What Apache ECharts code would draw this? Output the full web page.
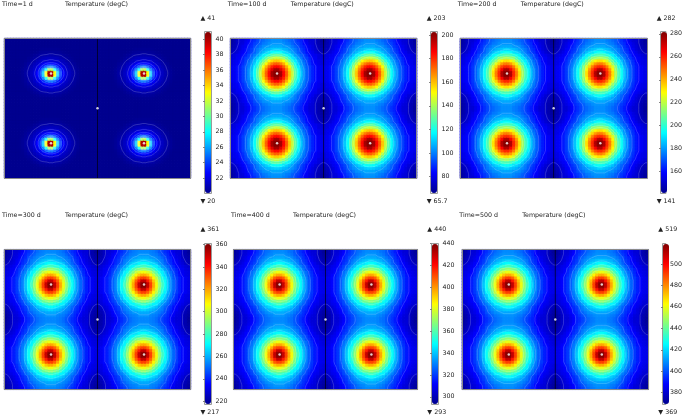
<!DOCTYPE html>
<html><head><meta charset="utf-8">
<style>html,body{margin:0;padding:0;background:#fff;overflow:hidden}#c{width:685px;height:416px;filter:blur(0.4px)}</style>
<script src="https://cdn.jsdelivr.net/npm/echarts@6/dist/echarts.min.js"></script>
</head><body><div id="c"></div>
<script>
const times=["Time=1 d","Time=100 d","Time=200 d","Time=300 d","Time=400 d","Time=500 d"];
const quantity="Temperature (degC)";
const minVals=[20,65.7,141,217,293,369];
const maxVals=[41,203,282,361,440,519];
const maxLabels=["41","203","282","361","440","519"];
const minLabels=["20","65.7","141","217","293","369"];
const ticks=[
 [22,24,26,28,30,32,34,36,38,40],
 [80,100,120,140,160,180,200],
 [160,180,200,220,240,260,280],
 [220,240,260,280,300,320,340,360],
 [300,320,340,360,380,400,420,440],
 [380,400,420,440,460,480,500]];
const contourStart=[20.6,75,150,226,303,379];
const contourStep=[1.05,9.6,9.9,10.1,10.3,10.5];
const jet=['#00008f','#0000ff','#0080ff','#00ffff','#80ff80','#ffff00','#ff8000','#ff0000','#800000'];
/* one tile of each field: from a hot spot (row 0, col 0) to the mid point between spots */
const tile1=[
[40,33,26.8,23.9,22.6,21.7,21.2,20.8,20.5,20.2,20.05,20,20,20,20,20],
[31.5,28,25.2,23.4,22.2,21.5,21.1,20.7,20.4,20.2,20.05,20,20,20,20,20],
[25,24.3,23.4,22.5,21.8,21.3,20.9,20.6,20.3,20.1,20,20,20,20,20,20],
[22.9,22.7,22.2,21.7,21.3,21,20.7,20.4,20.2,20.05,20,20,20,20,20,20],
[21.8,21.6,21.5,21.2,21,20.7,20.5,20.2,20.1,20,20,20,20,20,20,20],
[21.1,21.1,21,20.8,20.6,20.4,20.2,20.1,20,20,20,20,20,20,20,20],
[20.7,20.6,20.55,20.5,20.3,20.2,20.1,20,20,20,20,20,20,20,20,20],
[20.3,20.3,20.25,20.2,20.1,20.05,20,20,20,20,20,20,20,20,20,20],
[20.1,20.1,20.1,20.05,20,20,20,20,20,20,20,20,20,20,20,20],
[20,20,20,20,20,20,20,20,20,20,20,20,20,20,20,20],
[20,20,20,20,20,20,20,20,20,20,20,20,20,20,20,20],
[20,20,20,20,20,20,20,20,20,20,20,20,20,20,20,20]];
const tile2=[
[202,198,185,173,159,144,130,118,110,102,96,91,87,84,81,80],
[198,190,181,169,156,141,128,118,108,102,96,91,87,84,81,80],
[185,181,173,162,151,137,123,115,107,100,95,91,87,84,81,80],
[173,169,162,152,141,130,119,111,104,99,93,89,85,82,80,78],
[159,156,151,141,132,122,115,108,102,97,92,88,84,81,80,78],
[144,141,137,130,122,115,110,104,99,93,91,87,82,81,78,77],
[130,128,123,119,115,110,104,100,96,92,88,84,81,80,78,76],
[118,117,114,111,108,104,100,96,92,89,85,82,80,77,75,72],
[111,110,108,107,104,102,99,95,91,88,84,81,78,76,73,71],
[106,106,104,103,102,99,96,93,89,87,82,80,78,75,72,70],
[103,103,102,100,99,96,93,91,88,84,81,78,77,74,71,69],
[102,102,100,99,97,95,92,89,87,82,80,77,77,74,71,68]];
const tile3=[
[281,275,259,247,233,217,204,195,186,178,172,166,162,159,157,155],
[275,265,255,243,230,214,203,195,185,178,172,166,162,159,157,155],
[259,255,247,235,224,212,199,192,183,176,171,166,162,159,157,155],
[247,243,235,226,214,204,195,188,180,175,169,165,161,158,155,154],
[233,230,224,214,206,197,192,185,178,173,168,164,159,157,155,154],
[217,214,212,204,197,192,186,180,175,169,166,162,158,157,154,152],
[204,203,199,195,192,186,180,176,172,168,164,159,157,155,153,151],
[195,193,190,188,185,180,176,172,168,165,161,158,155,152,150,147],
[188,186,185,183,180,178,175,171,166,164,159,157,153,151,148,146],
[182,182,180,179,178,175,172,169,165,162,158,155,153,150,147,145],
[179,179,178,176,175,172,169,166,164,159,157,154,152,149,146,144],
[178,178,176,175,173,171,168,165,162,158,155,152,152,149,146,143]];
const tile4=[
[360,351,334,319,305,292,280,272,263,254,249,243,239,236,233,231],
[351,339,329,315,302,289,277,272,262,254,249,243,239,236,233,231],
[334,329,319,308,298,286,275,269,260,253,247,243,239,236,233,231],
[319,315,308,299,289,280,270,265,257,252,246,241,237,234,231,230],
[305,302,298,289,282,273,269,262,254,250,244,240,236,233,231,230],
[292,289,286,280,273,269,263,257,252,246,243,239,234,233,230,229],
[280,277,275,270,269,263,257,253,249,244,240,236,233,231,229,227],
[272,270,267,265,262,257,253,249,244,241,237,234,231,229,226,223],
[265,263,262,260,257,254,252,247,243,240,236,233,230,228,224,222],
[259,259,257,256,254,252,249,246,241,239,234,231,230,226,223,221],
[256,256,254,253,252,249,246,243,240,236,233,230,229,225,222,220],
[254,254,253,252,250,247,244,241,239,234,231,229,229,225,222,219]];
const tile5=[
[439,430,412,397,383,369,358,349,340,331,325,319,315,312,309,308],
[430,418,408,393,380,366,355,349,339,331,325,319,315,312,309,308],
[412,408,397,386,375,364,352,346,337,330,324,319,315,312,309,308],
[397,393,386,377,366,358,347,342,334,328,322,318,314,311,308,306],
[383,380,375,366,359,350,346,339,331,327,321,317,312,309,308,306],
[369,366,364,358,350,346,340,334,328,322,319,315,311,309,306,305],
[358,355,352,347,346,340,334,330,325,321,317,312,309,308,305,304],
[349,347,344,342,339,334,330,325,321,318,314,311,308,305,303,300],
[342,340,339,337,334,331,328,324,319,317,312,309,306,304,301,298],
[336,336,334,333,331,328,325,322,318,315,311,308,306,303,299,297],
[333,333,331,330,328,325,322,319,317,312,309,306,305,302,298,296],
[331,331,330,328,327,324,321,318,315,311,308,305,305,302,298,295]];
const tile6=[
[518,509,491,475,460,447,435,426,417,408,402,396,392,388,385,384],
[509,497,486,471,457,444,432,426,415,408,402,396,392,388,385,384],
[491,486,475,464,453,441,429,423,414,406,400,396,392,388,385,384],
[475,471,464,454,444,435,424,418,411,405,399,394,390,387,384,382],
[460,457,453,444,436,428,423,415,408,403,397,393,388,385,384,382],
[447,444,441,435,428,423,417,411,405,399,396,392,387,385,382,381],
[435,432,429,424,423,417,411,406,402,397,393,388,385,384,381,380],
[426,424,421,418,415,411,406,402,397,394,390,387,384,381,379,376],
[418,417,415,414,411,408,405,400,396,393,388,385,382,380,377,374],
[412,412,411,409,408,405,402,399,394,392,387,384,382,379,376,373],
[409,409,408,406,405,402,399,396,393,388,385,382,381,378,374,372],
[408,408,406,405,403,400,397,394,392,387,384,381,381,378,374,371]];
const tiles=[tile1,tile2,tile3,tile4,tile5,tile6];
/* layout in pixels: panel rectangle, colour bar rectangle, text anchors */
const panels=[
 {x:4.5,y:38.5,w:186,h:139.5,bx:205,by:32,bh:161,tx:2,ty:3.5,qx:65,mx:200.5,ay:17.5,by2:200.5},
 {x:230.5,y:38.5,w:186.2,h:139.5,bx:431,by:32,bh:161,tx:227.7,ty:3.5,qx:290.7,mx:426.7,ay:17.5,by2:200.5},
 {x:460.3,y:38.5,w:186.7,h:139.5,bx:661,by:32,bh:161,tx:457.7,ty:3.5,qx:520.7,mx:656.7,ay:17.5,by2:200.5},
 {x:4.5,y:249.7,w:186,h:139.6,bx:205,by:244,bh:160,tx:2,ty:215,qx:65,mx:200.5,ay:229,by2:412},
 {x:233.7,y:249.7,w:183.6,h:139.6,bx:432,by:244,bh:160,tx:231,ty:215,qx:293,mx:427.3,ay:229,by2:412},
 {x:462.3,y:249.7,w:186,h:139.6,bx:663,by:244,bh:160,tx:459.3,ty:215,qx:522.3,mx:658.3,ay:229,by2:412}];
const COLS=64,ROWS=48;
const colIdx=c=>c<16?15-c:c<32?c-16:c<48?47-c:c-48;
const rowIdx=r=>r<12?11-r:r<24?r-12:r<36?35-r:r-36;
const FONT='DejaVu Sans',TXT='#222',FS=6.3;
const jetRGB=jet.map(h=>[1,3,5].map(i=>parseInt(h.substr(i,2),16)));
function jetColor(t){
 const s=Math.max(0,Math.min(1,t))*8,i=Math.min(7,Math.floor(s)),f=s-i;
 return 'rgb('+jetRGB[i].map((a,q)=>Math.round(a+(jetRGB[i+1][q]-a)*f)).join(',')+')';
}
function contour(t,level){
 const v=(c,r)=>t[rowIdx(Math.max(0,Math.min(ROWS-1,r)))][colIdx(Math.max(0,Math.min(COLS-1,c)))];
 const out=[];
 for(let c=-1;c<COLS;c++)for(let r=-1;r<ROWS;r++){
  const a=v(c,r),b=v(c+1,r),d=v(c+1,r+1),e=v(c,r+1),x=c+.5,y=r+.5;
  const pts=[];
  if((a<level)!==(b<level))pts.push([x+(level-a)/(b-a),y]);
  if((b<level)!==(d<level))pts.push([x+1,y+(level-b)/(d-b)]);
  if((e<level)!==(d<level))pts.push([x+(level-e)/(d-e),y+1]);
  if((a<level)!==(e<level))pts.push([x,y+(level-a)/(e-a)]);
  if(pts.length===2)out.push(pts[0],pts[1],[NaN,NaN]);
  else if(pts.length===4)out.push(pts[0],pts[3],[NaN,NaN],pts[1],pts[2],[NaN,NaN]);
 }
 return out;
}
const grid=[],xAxis=[],yAxis=[],series=[],visualMap=[],title=[];
const catX=Array.from({length:COLS},(_,i)=>i),catY=Array.from({length:ROWS},(_,i)=>i);
const edge={lineStyle:{color:'#8a8a8a',width:1}};
const txt={fontFamily:FONT,fontSize:FS,fontWeight:'normal',color:TXT};
panels.forEach((p,k)=>{
 grid.push({left:p.x,top:p.y,width:p.w,height:p.h});
 const n=xAxis.length;
 xAxis.push({type:'category',gridIndex:k,data:catX,z:5,axisLine:{show:true,...edge},axisTick:{show:false},axisLabel:{show:false},splitLine:{show:false}});
 yAxis.push({type:'category',gridIndex:k,data:catY,z:5,axisLine:{show:true,...edge},axisTick:{show:false},axisLabel:{show:false},splitLine:{show:false}});
 xAxis.push({type:'value',gridIndex:k,position:'top',min:0,max:COLS,z:5,axisLine:{show:true,onZero:false,...edge},axisTick:{show:false},axisLabel:{show:false},splitLine:{show:false}});
 yAxis.push({type:'value',gridIndex:k,position:'right',min:0,max:ROWS,z:5,axisLine:{show:true,onZero:false,...edge},axisTick:{show:false},axisLabel:{show:false},splitLine:{show:false}});
 const cells=[];
 for(let c=0;c<COLS;c++)for(let r=0;r<ROWS;r++){
  const val=tiles[k][rowIdx(r)][colIdx(c)];
  cells.push({value:[c,r,val],itemStyle:{borderColor:jetColor((val-minVals[k])/(maxVals[k]-minVals[k])),borderWidth:0.7}});
 }
 visualMap.push({type:'continuous',seriesIndex:series.length,dimension:2,min:minVals[k],max:maxVals[k],left:p.bx,top:p.by,
  itemWidth:6,itemHeight:p.bh,padding:0,calculable:false,hoverLink:false,text:null,inRange:{color:jet},textStyle:{fontSize:1,color:'transparent'}});
 series.push({type:'heatmap',xAxisIndex:n,yAxisIndex:n,data:cells,progressive:0,animation:false,silent:true,emphasis:{disabled:true},z:1});
 const lineData=[],top=minVals[k]+0.58*(maxVals[k]-minVals[k]);
 for(let l=contourStart[k];l<top;l+=contourStep[k])lineData.push(...contour(tiles[k],l));
 series.push({type:'line',xAxisIndex:n+1,yAxisIndex:n+1,data:lineData,showSymbol:false,animation:false,silent:true,connectNulls:false,lineStyle:{color:'#fff',width:0.6,opacity:0.3},z:2});
 series.push({type:'line',xAxisIndex:n+1,yAxisIndex:n+1,data:[[31.99,0],[32.01,24],[31.99,48]],showSymbol:false,animation:false,silent:true,lineStyle:{color:'#000',width:0.8,opacity:0.8},z:3});
 series.push({type:'scatter',xAxisIndex:n+1,yAxisIndex:n+1,data:[[16,12],[48,12],[16,36],[48,36],[32,24]],symbol:'circle',symbolSize:2.5,animation:false,silent:true,itemStyle:{color:'#fff'},z:4});
 title.push({text:times[k],left:p.tx,top:p.ty-2.5,padding:0,textStyle:txt});
 title.push({text:quantity,left:p.qx,top:p.ty-2.5,padding:0,textStyle:txt});
 title.push({text:'▲ '+maxLabels[k],left:p.mx,top:p.ay-2.5,padding:0,textStyle:txt});
 title.push({text:'▼ '+minLabels[k],left:p.mx,top:p.by2-2.5,padding:0,textStyle:txt});
});
panels.forEach((p,k)=>{
 const g=grid.length;
 grid.push({left:p.bx-0.5,top:p.by-0.5,width:7,height:p.bh+1,show:true,borderColor:'#9a9a9a',borderWidth:1,backgroundColor:'transparent'});
 xAxis.push({type:'value',gridIndex:g,min:0,max:1,show:false});
 yAxis.push({type:'value',gridIndex:g,min:minVals[k],max:maxVals[k],position:'right',z:6,
  axisLine:{show:false},
  axisTick:{show:true,inside:true,length:1.5,customValues:ticks[k],lineStyle:{color:'#333',width:0.6}},
  axisLabel:{show:true,customValues:ticks[k],margin:4,fontFamily:FONT,fontSize:FS,color:TXT,showMinLabel:true,showMaxLabel:true},
  splitLine:{show:false}});
});
const chart=echarts.init(document.getElementById('c'),null,{renderer:'canvas'});
chart.setOption({animation:false,backgroundColor:'#fff',title,grid,xAxis,yAxis,visualMap,series});
</script></body></html>
